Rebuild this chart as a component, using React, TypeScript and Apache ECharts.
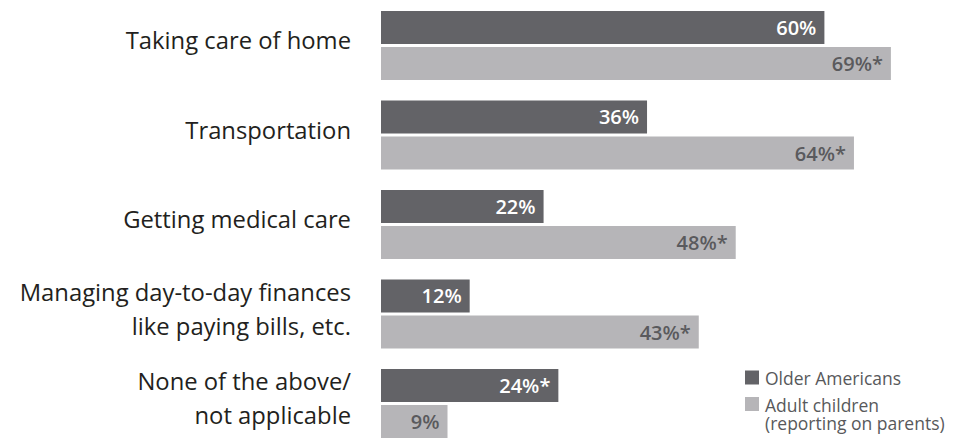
import React, { useEffect, useRef } from "react";
import * as echarts from "echarts";

const categories = [
  "Taking care of home",
  "Transportation",
  "Getting medical care",
  "Managing day-to-day finances\nlike paying bills, etc.",
  "None of the above/\nnot applicable",
];
const seriesNames = ["Older Americans", "Adult children", "(reporting on parents)"];
const olderAmericans = [60, 36, 22, 12, 24];
const adultChildren = [69, 64, 48, 43, 9];
const olderSignificant = [false, false, false, false, true];
const adultSignificant = [true, true, true, true, false];

const DARK = "#636367";
const LIGHT = "#b6b5b8";
const FONT = "'Open Sans', 'Noto Sans', sans-serif";

export default function App() {
  const ref = useRef<HTMLDivElement>(null);
  useEffect(() => {
    if (!ref.current) return;
    const chart = echarts.init(ref.current, null, { renderer: "svg" });
    const labelFor = (sig: boolean[], color: string) => ({
      show: true,
      position: "insideRight",
      distance: 8,
      color,
      fontFamily: FONT,
      fontSize: 20,
      fontWeight: 600,
      formatter: (p: any) => `${p.value}%${sig[p.dataIndex] ? "*" : ""}`,
    });
    const legendText = (text: string, y: number) => ({
      type: "text",
      x: 765,
      y,
      style: {
        text,
        fill: "#58595b",
        fontFamily: FONT,
        fontSize: 17.5,
        verticalAlign: "middle",
        align: "left",
      },
    });
    chart.setOption({
      animation: false,
      grid: {
        left: 381,
        top: 0.75,
        width: 517.3,
        height: 447.5,
        containLabel: false,
        outerBoundsMode: "none",
      },
      xAxis: { type: "value", min: 0, max: 70, show: false },
      yAxis: {
        type: "category",
        inverse: true,
        data: categories,
        axisLine: { show: false },
        axisTick: { show: false },
        splitLine: { show: false },
        axisLabel: {
          margin: 30,
          align: "right",
          formatter: (v: string) =>
            v
              .split("\n")
              .map((l) => `{t|${l}}`)
              .join("\n") + "\n{sp| }",
          rich: {
            t: { color: "#231f20", fontFamily: FONT, fontSize: 23.8, lineHeight: 34 },
            sp: { fontSize: 4, lineHeight: 11 },
          },
        },
      },
      series: [
        {
          name: seriesNames[0],
          type: "bar",
          data: olderAmericans,
          barWidth: 33,
          barGap: "9.1%",
          itemStyle: { color: DARK },
          label: labelFor(olderSignificant, "#ffffff"),
        },
        {
          name: seriesNames[1] + " " + seriesNames[2],
          type: "bar",
          data: adultChildren,
          barWidth: 33,
          barGap: "9.1%",
          itemStyle: { color: LIGHT },
          label: labelFor(adultSignificant, "#5a5a5d"),
        },
      ],
      graphic: [
        { type: "rect", shape: { x: 745, y: 370.5, width: 14, height: 14 }, style: { fill: DARK } },
        legendText(seriesNames[0], 377.5),
        { type: "rect", shape: { x: 745, y: 397, width: 14, height: 14 }, style: { fill: LIGHT } },
        legendText(seriesNames[1], 405),
        legendText(seriesNames[2], 423),
      ],
    });
    return () => chart.dispose();
  }, []);
  return (
    <div
      ref={ref}
      style={{ position: "fixed", left: 0, top: 0, width: 967, height: 439, background: "#ffffff" }}
    />
  );
}
